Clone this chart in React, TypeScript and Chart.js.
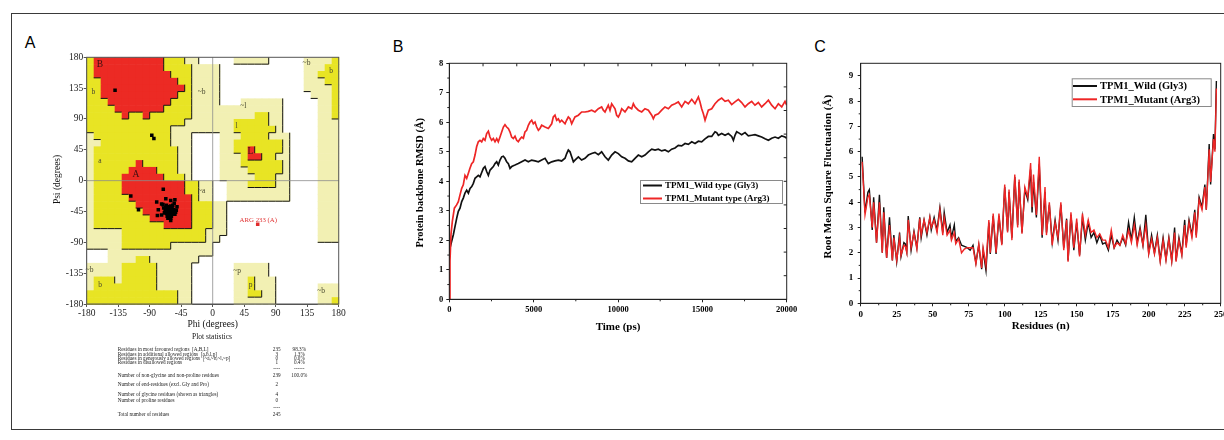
import React, { useEffect, useRef } from "react";
import { Chart, registerables } from "chart.js";

Chart.register(...registerables);

const SERIF = "'Liberation Serif', 'Times New Roman', serif";
const SANS = "'Liberation Sans', Arial, sans-serif";

// ---------------- Panel A : Ramachandran plot ----------------
const ramaTicks = [-180, -135, -90, -45, 0, 45, 90, 135, 180];
// 10-degree cells, rows from psi=180 downwards, columns from phi=-180 rightwards (run-length)
// R = most favoured, Y = additional allowed, L = generously allowed, . = disallowed
const ramaRegionRows = [
  "Y1 R10 Y3 L2 .5 L5 .5 L4 Y1",
  "Y1 R10 Y4 L4 .12 L3 Y2",
  "Y1 R11 Y3 L4 .12 L2 Y3",
  "Y2 R11 Y2 L4 .12 L3 Y2",
  "Y2 R12 Y1 L4 .12 L4 Y1",
  "Y2 R11 Y2 L4 .13 L3 Y1",
  "Y3 R9 Y3 L4 .3 L6 .5 L2 Y1",
  "Y4 R7 Y4 L13 .5 L2 Y1",
  "Y5 R1 Y2 R1 Y6 L9 Y2 L2 .5 L2 Y1",
  "Y14 L7 Y5 L2 .5 L3",
  "Y12 L9 Y6 L1 .5 L3",
  "L1 Y11 L3 .4 L3 Y4 L3 .4 L3",
  "L2 Y10 L3 .4 L2 Y7 L1 .4 L3",
  "L1 Y12 L2 .4 L2 Y2 R1 Y4 L1 .4 L3",
  "L1 Y12 L2 .4 L3 Y1 R2 Y2 L2 .4 L3",
  "L1 Y6 R1 Y5 L2 .4 L3 Y6 L1 .4 L3",
  "L1 Y5 R4 Y3 L2 .4 L4 Y5 L1 .4 L3",
  "L1 Y4 R6 Y3 L1 .4 L5 Y3 L2 .4 L3",
  "L1 Y4 R9 Y2 L2 .2 L3 Y4 L2 .4 L3",
  "L1 Y4 R9 Y2 L2 .2 L9 .4 L3",
  "L1 Y5 R9 Y1 L2 .2 L9 .4 L3",
  "L1 Y6 R8 Y3 L2 .13 L3",
  "L1 Y7 R7 Y3 L2 .13 L3",
  "L1 Y8 R6 Y3 L2 .13 L3",
  "L1 Y10 R4 Y3 L2 .13 L3",
  "L5 Y12 L3 .13 L3",
  "L5 Y12 L2 .14 L3",
  "L5 Y7 L6 .18",
  ".3 L15 .18",
  ".3 L4 Y2 L7 .20",
  "L5 Y5 L5 .6 L5 .10",
  "L5 Y5 L5 .6 L5 .10",
  "L1 Y3 L1 Y5 L5 .6 L2 Y1 L3 .9",
  "L1 Y9 L5 .6 L2 Y1 L3 .6 L3",
  "Y13 L2 .6 L2 Y2 L2 .6 L3",
  "Y13 L2 .6 L6 .6 L2 Y1",
];

const ramaPhi = [
  -139.5, -87, -84, -117, -106, -70.6, -80, -77.7, -79, -67, -60, -54, -53, -60, -73,
  -66, -63, -60, -58, -65, -62, -59, -56, -68, -64, -61, -58, -55, -66, -63, -60, -57,
  -65, -62, -59, -70, -67, -54, -61, -57, -69, -52, -64, -60, -71, -55, -51, -73,
];
const ramaPsi = [
  132, 66.3, 61.4, -22.5, -42.5, -12.7, -31, -42.5, -51, -26.4, -29, -27.8, -46, -58, -34,
  -36, -38, -37, -40, -41, -42, -43, -42, -44, -45, -46, -46, -45, -48, -49, -50, -49,
  -52, -53, -52, -40, -39, -49, -39, -36, -47, -43, -55, -55, -35, -33, -38, -50,
];
const disallowedPhi = [64.3];
const disallowedPsi = [-63.5];
const disallowedLabel = "ARG 233 (A)";

const regionLabelText = ["B", "b", "A", "a", "~b", "~a", "~l", "l", "L", "~b", "b", "~b", "b", "~p", "p", "~b"];
const regionLabelPhi = [-161, -170.6, -109.6, -161, -15.7, -15.7, 43.7, 34, 54, 134, 169, -176, -161, 35, 54, 155];
const regionLabelPsi = [170, 130, 9, 28, 130, -15.7, 108.7, 80, 42, 171, 160, -130, -152, -132, -153, -161.6];

const statsLabels = [
  "Residues in most favoured regions  [A,B,L]",
  "Residues in additional allowed regions  [a,b,l,p]",
  "Residues in generously allowed regions  [~a,~b,~l,~p]",
  "Residues in disallowed regions",
  "Number of non-glycine and non-proline residues",
  "Number of end-residues (excl. Gly and Pro)",
  "Number of glycine residues (shown as triangles)",
  "Number of proline residues",
  "Total number of residues",
];
const statsCounts = ["235", "3", "0", "1", "239", "2", "4", "0", "245"];
const statsPercents = ["98.3%", "1.3%", "0.0%", "0.4%", "100.0%", "", "", "", ""];

// ---------------- Panel B : RMSD ----------------
const rmsdTimeWild = [
  0, 40, 140, 240, 340, 440, 535, 635, 735, 830, 930, 1030, 1130, 1230, 1330, 1425, 1525, 1620, 1720, 1820,
  1920, 2020, 2115, 2215, 2315, 2415, 2510, 2610, 2710, 2810, 2905, 3005, 3105, 3200, 3300, 3400, 3500, 3600,
  3700, 3795, 3895, 4090, 4290, 4490, 4685, 4880, 5080, 5280, 5475, 5675, 5870, 6070, 6265, 6465, 6660, 6860,
  6960, 7055, 7155, 7255, 7355, 7450, 7650, 7845, 8045, 8240, 8440, 8635, 8835, 9030, 9230, 9425, 9625, 9825,
  10020, 10220, 10415, 10615, 10810, 10910, 11010, 11205, 11405, 11600, 11800, 12000, 12195, 12390, 12590,
  12785, 12985, 13180, 13380, 13575, 13775, 13975, 14170, 14370, 14565, 14765, 14960, 15160, 15355, 15555,
  15750, 15850, 15950, 16145, 16345, 16540, 16740, 16840, 16935, 17035, 17135, 17330, 17530, 17725, 17925,
  18120, 18320, 18515, 18715, 18915, 19110, 19310, 19505, 19705, 19900, 20000,
];
const rmsdWild = [
  1.6, 1.74, 1.97, 2.19, 2.47, 2.75, 2.98, 3.09, 3.31, 3.43, 3.6, 3.7, 3.6, 3.76, 3.82, 3.93, 4.1, 4.15, 4.2, 4.15,
  4.3, 4.44, 4.5, 4.33, 4.2, 4.38, 4.44, 4.5, 4.6, 4.66, 4.55, 4.72, 4.83, 4.85, 4.78, 4.66, 4.6, 4.44,
  4.5, 4.53, 4.55, 4.6, 4.66, 4.72, 4.66, 4.72, 4.69, 4.66, 4.72, 4.78, 4.6, 4.66, 4.69, 4.72, 4.69, 4.78,
  4.94, 5.06, 5.0, 4.83, 4.66, 4.72, 4.83, 4.72, 4.78, 4.89, 4.94, 4.98, 4.9, 5.0, 4.83, 4.72, 4.89, 5.0,
  4.94, 4.83, 4.78, 4.69, 4.66, 4.72, 4.78, 4.89, 4.83, 4.89, 5.0, 5.09, 5.06, 5.09, 5.03,
  5.06, 5.0, 5.09, 5.13, 5.22, 5.2, 5.28, 5.25, 5.34, 5.28, 5.36, 5.34, 5.44, 5.52, 5.52,
  5.68, 5.65, 5.56, 5.62, 5.56, 5.62, 5.52, 5.39, 5.56, 5.68, 5.65, 5.58, 5.65, 5.54, 5.56,
  5.58, 5.54, 5.5, 5.44, 5.39, 5.46, 5.5, 5.46, 5.54, 5.5, 5.46,
];
const rmsdTimeMutant = [
  0, 40, 100, 180, 300, 435, 535, 635, 735, 830, 930, 1030, 1130, 1225, 1325, 1425, 1525, 1620, 1720, 1820,
  1920, 2015, 2115, 2215, 2315, 2410, 2510, 2610, 2710, 2810, 2905, 3005, 3105, 3205, 3300, 3400, 3500, 3600,
  3695, 3795, 3895, 3995, 4090, 4190, 4290, 4390, 4485, 4585, 4685, 4785, 4885, 4980, 5080, 5180, 5280, 5375,
  5475, 5675, 5870, 6070, 6165, 6265, 6365, 6465, 6560, 6660, 6860, 6955, 7055, 7155, 7255, 7355, 7450, 7650,
  7845, 8045, 8240, 8440, 8635, 8835, 9030, 9130, 9230, 9425, 9525, 9625, 9825, 9920, 10020, 10120, 10220,
  10415, 10615, 10810, 10910, 11010, 11205, 11405, 11600, 11800, 12000, 12095, 12195, 12390, 12590, 12785,
  12985, 13180, 13380, 13575, 13775, 13975, 14170, 14370, 14565, 14765, 14860, 14960, 15060, 15160, 15255,
  15355, 15555, 15750, 15950, 16145, 16345, 16540, 16740, 16935, 17135, 17330, 17530, 17725, 17925, 18120,
  18320, 18515, 18715, 18915, 19110, 19310, 19505, 19705, 19900, 20000,
];
const rmsdMutant = [
  0, 1.3, 2.2, 2.64, 3.09, 3.2, 3.31, 3.54, 3.76, 3.88, 4.2, 4.1, 4.27, 4.44, 4.6, 4.66, 4.89, 5.17, 5.34, 5.39,
  5.34, 5.45, 5.39, 5.62, 5.7, 5.5, 5.39, 5.45, 5.34, 5.45, 5.34, 5.5, 5.67, 5.84, 5.92, 5.84, 5.79, 5.67,
  5.5, 5.45, 5.53, 5.39, 5.34, 5.43, 5.5, 5.46, 5.67, 5.73, 5.9, 6.01, 6.07, 5.95, 6.01, 5.84, 5.73, 5.79,
  5.9, 5.84, 5.79, 5.95, 6.18, 6.24, 6.07, 6.12, 6.01, 6.07, 5.95, 6.07, 6.18, 6.12, 5.95, 6.07, 6.18, 6.24,
  6.35, 6.35, 6.37, 6.41, 6.35, 6.46, 6.52, 6.41, 6.35, 6.58, 6.41, 6.63, 6.46, 6.24, 6.18, 6.29, 6.46,
  6.35, 6.52, 6.46, 6.63, 6.52, 6.41, 6.35, 6.46, 6.41, 6.24, 6.12, 6.24, 6.29, 6.41, 6.52,
  6.46, 6.58, 6.63, 6.69, 6.52, 6.71, 6.63, 6.78, 6.63, 6.86, 6.69, 6.46, 6.29, 6.07, 6.24,
  6.41, 6.46, 6.63, 6.75, 6.82, 6.71, 6.75, 6.6, 6.69, 6.78, 6.67, 6.52, 6.63, 6.71, 6.58,
  6.67, 6.52, 6.63, 6.75, 6.58, 6.46, 6.63, 6.52, 6.71, 6.58,
];
const rmsdXTicks = [0, 5000, 10000, 15000, 20000];
const rmsdXMinor = [2500, 7500, 12500, 17500];
const rmsdTopTicks = [2000, 4000, 6000, 8000, 10000, 12000, 14000, 16000, 18000];
const rmsdYTicks = [0, 1, 2, 3, 4, 5, 6, 7, 8];
const rmsdYMinor = [0.5, 1.5, 2.5, 3.5, 4.5, 5.5, 6.5, 7.5];
const rmsdRightTicks = [0.8, 1.6, 2.4, 3.2, 4.0, 4.8, 5.6, 6.4, 7.2];
const rmsdLegend = ["TPM1_Wild type (Gly3)", "TPM1_Mutant type (Arg3)"];

// ---------------- Panel C : RMSF ----------------
const residues = [
  1, 3, 5, 6, 8, 9, 11, 13, 15, 16, 18, 20, 22, 23, 25, 27, 28, 30, 31, 32,
  33, 35, 37, 39, 41, 42, 44, 46, 48, 49, 51, 53, 55, 57, 58, 60, 62, 63, 65, 66,
  68, 70, 72, 74, 76, 78, 80, 82, 84, 85, 87, 89, 90, 92, 94, 96, 98, 100, 102, 103,
  105, 107, 109, 110, 112, 114, 116, 118, 119, 120, 122, 124, 126, 128, 129, 131, 133, 135, 137, 139,
  141, 143, 144, 146, 148, 150, 152, 154, 156, 158, 160, 162, 164, 166, 168, 170, 172, 174, 176, 178,
  180, 182, 184, 186, 188, 190, 192, 194, 196, 198, 200, 202, 204, 206, 208, 210, 212, 214, 216, 218,
  219, 221, 223, 225, 226, 228, 230, 232, 233, 235, 237, 239, 240, 242, 243, 245, 246, 247,
];
const rmsfWild = [
  5.8, 3.6, 4.4, 4.5, 2.9, 4.2, 2.4, 4.3, 2.0, 3.8, 1.8, 3.4, 1.7, 2.7, 1.65, 2.8, 1.85, 2.4, 2.35, 2.05,
  3.45, 2.1, 2.85, 2.2, 3.4, 2.6, 3.3, 2.7, 3.4, 2.9, 3.4, 2.9, 3.8, 2.8, 3.6, 2.8, 3.1, 2.6, 3.1, 2.45,
  2.6, 2.3, 2.25, 2.2, 2.1, 2.3, 1.6, 2.3, 1.35, 2.1, 1.3, 3.2, 1.95, 3.45, 1.95, 3.45, 2.35, 4.6, 2.85, 4.4,
  2.6, 5.0, 3.1, 4.8, 2.8, 4.5, 4.1, 5.3, 3.6, 4.8, 3.4, 5.5, 2.6, 4.4, 2.8, 3.9, 2.4, 3.3, 2.5, 3.9,
  2.2, 3.35, 1.7, 3.5, 2.1, 3.2, 1.9, 3.4, 2.5, 3.2, 2.6, 2.8, 2.4, 2.7, 2.35, 2.4, 2.1, 2.7, 2.2, 2.5,
  2.3, 2.6, 2.3, 3.2, 2.5, 3.4, 2.4, 3.0, 2.3, 3.5, 2.0, 2.7, 2.0, 2.7, 1.7, 2.6, 1.75, 2.6, 1.7, 3.0,
  1.7, 2.6, 1.95, 3.3, 2.3, 3.3, 2.7, 3.7, 2.7, 4.2, 3.8, 4.7, 3.7, 6.3, 4.7, 6.7, 6.1, 8.8,
];
const rmsfMutant = [
  5.6, 3.5, 4.2, 4.3, 3.0, 4.0, 2.4, 4.0, 2.0, 3.6, 1.8, 3.1, 1.7, 2.6, 1.7, 2.6, 1.9, 2.3, 2.25, 2.0,
  3.3, 2.2, 2.8, 2.15, 3.35, 2.7, 3.3, 2.8, 3.4, 3.0, 3.3, 2.8, 3.7, 2.7, 3.4, 2.7, 2.9, 2.5, 2.8, 2.35,
  2.55, 2.0, 2.15, 2.2, 2.2, 2.2, 1.55, 2.35, 1.4, 2.2, 1.5, 3.3, 2.0, 3.55, 2.0, 3.55, 2.3, 4.7, 2.8, 4.5,
  2.5, 5.1, 3.0, 4.9, 2.75, 4.6, 4.2, 5.55, 3.8, 5.1, 3.5, 5.8, 2.7, 4.6, 2.7, 4.0, 2.3, 3.2, 2.6, 4.0,
  2.1, 3.3, 1.65, 3.6, 2.2, 3.35, 1.85, 3.55, 2.7, 3.3, 2.8, 2.9, 2.6, 2.75, 2.5, 2.5, 2.2, 2.9, 2.2, 2.4,
  2.3, 2.7, 2.35, 2.9, 2.4, 3.1, 2.3, 2.9, 2.3, 3.1, 1.95, 2.55, 1.95, 2.6, 1.65, 2.5, 1.7, 2.55, 1.65, 2.8,
  1.65, 2.5, 1.9, 3.1, 2.2, 3.2, 2.6, 3.6, 2.6, 4.1, 3.7, 4.6, 3.7, 6.1, 4.8, 6.5, 6.0, 8.5,
];
const rmsfXTicks = [0, 25, 50, 75, 100, 125, 150, 175, 200, 225, 250];
const rmsfXMinor = [12.5, 37.5, 62.5, 87.5, 112.5, 137.5, 162.5, 187.5, 212.5, 237.5];
const rmsfYTicks = [0, 1, 2, 3, 4, 5, 6, 7, 8, 9];
const rmsfYMinor = [0.5, 1.5, 2.5, 3.5, 4.5, 5.5, 6.5, 7.5, 8.5];
const rmsfLegend = ["TPM1_Wild (Gly3)", "TPM1_Mutant (Arg3)"];

const WILD_COLOR = "#111111";
const MUT_COLOR = "#ee2626";

// ---------------- helpers ----------------
function decodeRow(rle: string): string {
  let out = "";
  const re = /([RYL.])(\d+)/g;
  let m: RegExpExecArray | null;
  while ((m = re.exec(rle))) out += m[1].repeat(parseInt(m[2], 10));
  while (out.length < 36) out += ".";
  return out;
}
const ramaGrid = ramaRegionRows.map(decodeRow);

function fitAxis(size: number, horizontal: boolean) {
  return (s: any) => {
    if (horizontal) s.height = size;
    else s.width = size;
    s.paddingLeft = 0;
    s.paddingRight = 0;
    s.paddingTop = 0;
    s.paddingBottom = 0;
  };
}
function setTicks(values: number[]) {
  return (s: any) => {
    s.ticks = values.map((v) => ({ value: v }));
  };
}
function pts(xs: number[], ys: number[]) {
  return xs.map((x, i) => ({ x, y: ys[i] }));
}

function axisCfg(opts: any) {
  const { min, max, ticks, size, horizontal, font, color, padding, tickLength, borderColor } = opts;
  return {
    type: "linear",
    min,
    max,
    afterBuildTicks: setTicks(ticks),
    afterFit: fitAxis(size, horizontal),
    ticks: {
      font,
      color,
      padding,
      maxRotation: 0,
      minRotation: 0,
      autoSkip: false,
      callback: (v: any) => String(v),
    },
    grid: { drawOnChartArea: false, drawTicks: true, tickLength, color: borderColor, lineWidth: 1 },
    border: { display: true, color: borderColor, width: 1 },
  };
}

function drawLegend(ctx: any, box: number[], labels: string[], colors: string[], rowY: number[], lineX: number[], textX: number, font: string) {
  ctx.save();
  ctx.fillStyle = "#fff";
  ctx.fillRect(box[0], box[1], box[2] - box[0], box[3] - box[1]);
  ctx.strokeStyle = "#8a8a8a";
  ctx.lineWidth = 1;
  ctx.strokeRect(box[0] + 0.5, box[1] + 0.5, box[2] - box[0], box[3] - box[1]);
  ctx.font = font;
  ctx.textAlign = "left";
  ctx.textBaseline = "middle";
  labels.forEach((t, i) => {
    ctx.strokeStyle = colors[i];
    ctx.lineWidth = 2;
    ctx.beginPath();
    ctx.moveTo(lineX[0], rowY[i]);
    ctx.lineTo(lineX[1], rowY[i]);
    ctx.stroke();
    ctx.fillStyle = "#000";
    ctx.fillText(t, textX, rowY[i] + 0.5);
  });
  ctx.restore();
}

// ---------------- plugins ----------------
const ramaPlugin = {
  id: "ramaRegions",
  beforeDatasetsDraw(chart: any) {
    const { ctx, scales, chartArea: a } = chart;
    const x = scales.x;
    const y = scales.y;
    const level: any = { R: 3, Y: 2, L: 1, ".": 0 };
    const fill: any = { R: "#ec2a24", Y: "#e8e424", L: "#f2f0b3" };
    ctx.save();
    ctx.fillStyle = "#fff";
    ctx.fillRect(a.left, a.top, a.right - a.left, a.bottom - a.top);
    for (let i = 0; i < 36; i++) {
      for (let j = 0; j < 36; j++) {
        const ch = ramaGrid[i][j];
        if (ch === ".") continue;
        const x0 = x.getPixelForValue(-180 + 10 * j);
        const x1 = x.getPixelForValue(-170 + 10 * j);
        const y0 = y.getPixelForValue(180 - 10 * i);
        const y1 = y.getPixelForValue(170 - 10 * i);
        ctx.fillStyle = fill[ch];
        ctx.fillRect(x0, y0, x1 - x0 + 0.6, y1 - y0 + 0.6);
      }
    }
    // shadow edges (right and bottom sides of higher-level regions)
    ctx.strokeStyle = "#151515";
    ctx.lineWidth = 1;
    ctx.beginPath();
    for (let i = 0; i < 36; i++) {
      for (let j = 0; j < 36; j++) {
        const l = level[ramaGrid[i][j]];
        if (l === 0) continue;
        const x0 = x.getPixelForValue(-180 + 10 * j);
        const x1 = x.getPixelForValue(-170 + 10 * j);
        const y0 = y.getPixelForValue(180 - 10 * i);
        const y1 = y.getPixelForValue(170 - 10 * i);
        if (j < 35 && level[ramaGrid[i][j + 1]] < l) {
          ctx.moveTo(x1, y0);
          ctx.lineTo(x1, y1);
        }
        if (i < 35 && level[ramaGrid[i + 1][j]] < l) {
          ctx.moveTo(x0, y1);
          ctx.lineTo(x1, y1);
        }
      }
    }
    ctx.stroke();
    // zero lines
    ctx.strokeStyle = "#8c8c8c";
    ctx.lineWidth = 0.8;
    ctx.beginPath();
    const zx = x.getPixelForValue(0);
    const zy = y.getPixelForValue(0);
    ctx.moveTo(zx, a.top);
    ctx.lineTo(zx, a.bottom);
    ctx.moveTo(a.left, zy);
    ctx.lineTo(a.right, zy);
    ctx.stroke();
    // region labels
    ctx.textAlign = "center";
    ctx.textBaseline = "middle";
    regionLabelText.forEach((t, k) => {
      const big = t === "A" || t === "B" || t === "L";
      ctx.font = `${big ? 9.5 : 7.5}px ${SERIF}`;
      ctx.fillStyle = big ? "#3a1010" : "#4a4a30";
      ctx.fillText(t, x.getPixelForValue(regionLabelPhi[k]), y.getPixelForValue(regionLabelPsi[k]));
    });
    ctx.restore();
  },
  afterDraw(chart: any) {
    const { ctx, scales, chartArea: a } = chart;
    const x = scales.x;
    const y = scales.y;
    ctx.save();
    ctx.strokeStyle = "#555";
    ctx.lineWidth = 1;
    ctx.strokeRect(a.left, a.top, a.right - a.left, a.bottom - a.top);
    // disallowed residue label
    ctx.font = `6.8px ${SERIF}`;
    ctx.fillStyle = "#e03030";
    ctx.textAlign = "center";
    ctx.textBaseline = "middle";
    ctx.fillText(disallowedLabel, x.getPixelForValue(disallowedPhi[0]) + 0.6, y.getPixelForValue(disallowedPsi[0]) - 4.2);
    // axis titles
    ctx.fillStyle = "#111";
    ctx.font = `9.5px ${SERIF}`;
    const cx = (a.left + a.right) / 2;
    ctx.fillText("Phi (degrees)", cx, a.bottom + 20);
    ctx.save();
    ctx.translate(a.left - 29.4, (a.top + a.bottom) / 2 - 1.2);
    ctx.rotate(-Math.PI / 2);
    ctx.fillText("Psi (degrees)", 0, 0);
    ctx.restore();
    // statistics
    ctx.font = `7.5px ${SERIF}`;
    ctx.fillText("Plot statistics", cx - 0.7, a.bottom + 32.7);
    const rowY = [349.3, 354.3, 358.7, 363, 376, 384.3, 394.3, 400.3, 414.3].map((v) => v - 40);
    const textX = 77.7;
    const countX = 236.7;
    const pctX = 259.3;
    ctx.font = `5.2px ${SERIF}`;
    ctx.fillStyle = "#222";
    statsLabels.forEach((t, i) => {
      ctx.textAlign = "left";
      ctx.fillText(t, textX, rowY[i]);
      ctx.textAlign = "center";
      ctx.fillText(statsCounts[i], countX, rowY[i]);
      if (statsPercents[i]) ctx.fillText(statsPercents[i], pctX, rowY[i]);
    });
    ctx.textAlign = "center";
    ctx.fillText("----", countX, 368.7 - 40);
    ctx.fillText("------", pctX, 368.7 - 40);
    ctx.fillText("----", countX, 407.7 - 40);
    ctx.restore();
  },
};

function tickMarks(ctx: any, a: any, x: any, y: any, spec: any) {
  ctx.beginPath();
  (spec.leftMinor || []).forEach((v: number) => {
    const p = y.getPixelForValue(v);
    ctx.moveTo(a.left, p);
    ctx.lineTo(a.left - 2, p);
  });
  (spec.bottomMinor || []).forEach((v: number) => {
    const p = x.getPixelForValue(v);
    ctx.moveTo(p, a.bottom);
    ctx.lineTo(p, a.bottom + 2);
  });
  (spec.top || []).forEach((v: number) => {
    const p = x.getPixelForValue(v);
    ctx.moveTo(p, a.top);
    ctx.lineTo(p, a.top + 3);
  });
  (spec.right || []).forEach((v: number) => {
    const p = y.getPixelForValue(v);
    ctx.moveTo(a.right, p);
    ctx.lineTo(a.right - 3, p);
  });
  ctx.stroke();
}

const rmsdPlugin = {
  id: "rmsdDecor",
  afterDraw(chart: any) {
    const { ctx, scales, chartArea: a } = chart;
    ctx.save();
    ctx.strokeStyle = "#222";
    ctx.lineWidth = 1;
    ctx.strokeRect(a.left, a.top, a.right - a.left, a.bottom - a.top);
    tickMarks(ctx, a, scales.x, scales.y, {
      leftMinor: rmsdYMinor,
      bottomMinor: rmsdXMinor,
      top: rmsdTopTicks,
      right: rmsdRightTicks,
    });
    drawLegend(ctx, [255, 125, 397, 148], rmsdLegend, [WILD_COLOR, MUT_COLOR], [130.5, 143.5], [258, 277], 280, `bold 9px ${SERIF}`);
    ctx.fillStyle = "#000";
    ctx.textAlign = "center";
    ctx.textBaseline = "middle";
    ctx.font = `bold 11px ${SERIF}`;
    ctx.fillText("Time (ps)", (a.left + a.right) / 2, a.bottom + 28);
    ctx.save();
    ctx.translate(a.left - 29.3, (a.top + a.bottom) / 2 + 1.5);
    ctx.rotate(-Math.PI / 2);
    ctx.font = `bold 10.5px ${SERIF}`;
    ctx.fillText("Protein backbone RMSD (\u00c5)", 0, 0);
    ctx.restore();
    ctx.restore();
  },
};

const rmsfPlugin = {
  id: "rmsfDecor",
  afterDraw(chart: any) {
    const { ctx, scales, chartArea: a } = chart;
    ctx.save();
    ctx.strokeStyle = "#222";
    ctx.lineWidth = 1;
    ctx.strokeRect(a.left, a.top, a.right - a.left, a.bottom - a.top);
    tickMarks(ctx, a, scales.x, scales.y, { leftMinor: rmsfYMinor, bottomMinor: rmsfXMinor });
    drawLegend(ctx, [266.7, 23.3, 405.7, 51], rmsfLegend, [WILD_COLOR, MUT_COLOR], [31, 44.3], [268, 292], 295, `bold 10.5px ${SERIF}`);
    ctx.fillStyle = "#000";
    ctx.textAlign = "center";
    ctx.textBaseline = "middle";
    ctx.font = `bold 11px ${SERIF}`;
    ctx.fillText("Residues (n)", (a.left + a.right) / 2, a.bottom + 23);
    ctx.save();
    ctx.translate(a.left - 32.4, (a.top + a.bottom) / 2 - 6.6);
    ctx.rotate(-Math.PI / 2);
    ctx.fillText("Root Mean Square Fluctuation (\u00c5)", 0, 0);
    ctx.restore();
    ctx.restore();
  },
};

// ---------------- component ----------------
export default function App() {
  const aRef = useRef<HTMLCanvasElement>(null);
  const bRef = useRef<HTMLCanvasElement>(null);
  const cRef = useRef<HTMLCanvasElement>(null);

  useEffect(() => {
    const base = {
      animation: false,
      responsive: false,
      maintainAspectRatio: false,
      events: [],
      plugins: { legend: { display: false }, tooltip: { enabled: false }, title: { display: false } },
    };

    const ramaFont = { family: SERIF, size: 9.5 };
    const chartA = new Chart(aRef.current as HTMLCanvasElement, {
      type: "scatter",
      data: {
        datasets: [
          {
            data: pts(ramaPhi, ramaPsi),
            backgroundColor: "#000",
            borderWidth: 0,
            pointStyle: "rect",
            pointRadius: 2.5,
          },
          {
            data: pts(disallowedPhi, disallowedPsi),
            backgroundColor: "#e02a2a",
            borderWidth: 0,
            pointStyle: "rect",
            pointRadius: 2.5,
          },
        ],
      },
      options: {
        ...base,
        layout: { padding: { left: 0, top: 17.3, right: 11.3, bottom: 96 } },
        scales: {
          x: axisCfg({ min: -180, max: 180, ticks: ramaTicks, size: 25, horizontal: true, font: ramaFont, color: "#222", padding: 0.5, tickLength: 3, borderColor: "#555" }),
          y: axisCfg({ min: -180, max: 180, ticks: ramaTicks, size: 46.7, horizontal: false, font: ramaFont, color: "#222", padding: 0.5, tickLength: 3, borderColor: "#555" }),
        },
      } as any,
      plugins: [ramaPlugin],
    } as any);

    const boldB = { family: SERIF, size: 8.5, weight: "bold" };
    const chartB = new Chart(bRef.current as HTMLCanvasElement, {
      type: "line",
      data: {
        datasets: [
          { data: pts(rmsdTimeWild, rmsdWild), borderColor: WILD_COLOR, borderWidth: 1.7, pointRadius: 0, tension: 0, order: 2 },
          { data: pts(rmsdTimeMutant, rmsdMutant), borderColor: MUT_COLOR, borderWidth: 1.7, pointRadius: 0, tension: 0, order: 1 },
        ],
      },
      options: {
        ...base,
        layout: { padding: { left: 0, top: 8.3, right: 23.3, bottom: 0.7 } },
        scales: {
          x: axisCfg({ min: 0, max: 20000, ticks: rmsdXTicks, size: 40, horizontal: true, font: boldB, color: "#000", padding: 2, tickLength: 3, borderColor: "#222" }),
          y: axisCfg({ min: 0, max: 8, ticks: rmsdYTicks, size: 64.3, horizontal: false, font: boldB, color: "#000", padding: 3, tickLength: 3, borderColor: "#222" }),
        },
      } as any,
      plugins: [rmsdPlugin],
    } as any);

    const boldC = { family: SERIF, size: 9, weight: "bold" };
    const chartC = new Chart(cRef.current as HTMLCanvasElement, {
      type: "line",
      data: {
        datasets: [
          { data: pts(residues, rmsfWild), borderColor: WILD_COLOR, borderWidth: 1.4, pointRadius: 0, tension: 0, order: 2 },
          { data: pts(residues, rmsfMutant), borderColor: MUT_COLOR, borderWidth: 1.4, pointRadius: 0, tension: 0, order: 1 },
        ],
      },
      options: {
        ...base,
        layout: { padding: { left: 0, top: 8.3, right: 9.3, bottom: 0.7 } },
        scales: {
          x: axisCfg({ min: 0, max: 250, ticks: rmsfXTicks, size: 36, horizontal: true, font: boldC, color: "#000", padding: 3, tickLength: 3, borderColor: "#222" }),
          y: axisCfg({ min: 0, max: 9.5, ticks: rmsfYTicks, size: 55.7, horizontal: false, font: boldC, color: "#000", padding: 4.4, tickLength: 3, borderColor: "#222" }),
        },
      } as any,
      plugins: [rmsfPlugin],
    } as any);

    return () => {
      chartA.destroy();
      chartB.destroy();
      chartC.destroy();
    };
  }, []);

  const letter = (left: number, top: number): React.CSSProperties => ({
    position: "absolute",
    left,
    top,
    fontFamily: SANS,
    fontSize: 16,
    lineHeight: "16px",
    color: "#000",
  });

  return (
    <div style={{ position: "fixed", left: 0, top: 0, width: 1224, height: 440, overflow: "hidden", background: "#fff" }}>
      <div style={{ position: "absolute", left: 11, top: 13, width: 1260, height: 415, border: "1.3px solid #3a3a3a" }} />
      <div style={letter(24.7, 35.2)}>A</div>
      <div style={letter(392.7, 39.2)}>B</div>
      <div style={letter(814.2, 39.2)}>C</div>
      <canvas ref={aRef} width={310} height={385} style={{ position: "absolute", left: 40, top: 40, width: 310, height: 385 }} />
      <canvas ref={bRef} width={425} height={285} style={{ position: "absolute", left: 385, top: 55, width: 425, height: 285 }} />
      <canvas ref={cRef} width={425} height={285} style={{ position: "absolute", left: 805, top: 55, width: 425, height: 285 }} />
    </div>
  );
}
